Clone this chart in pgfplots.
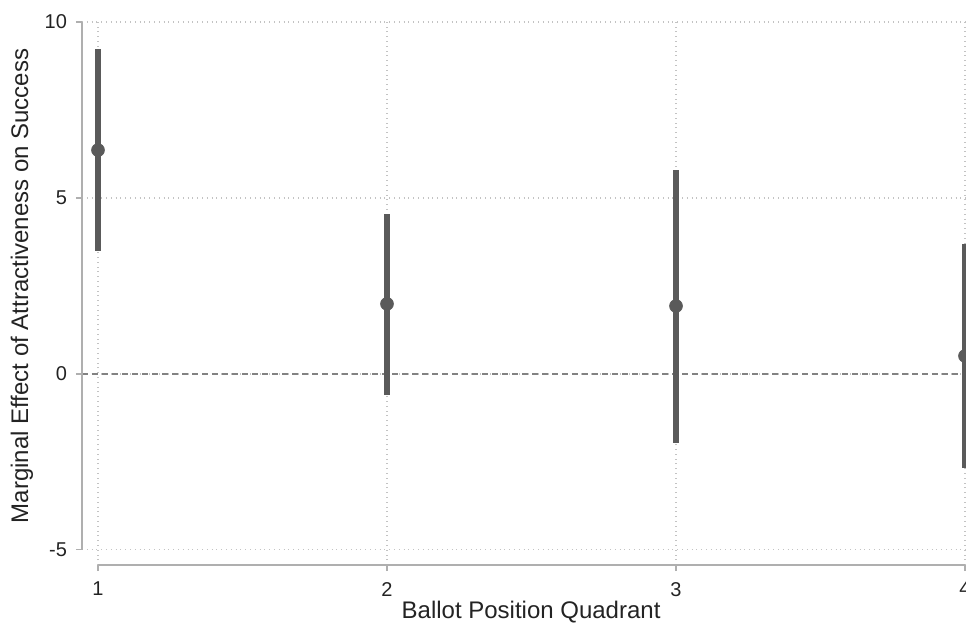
\documentclass[border=0pt]{standalone}
\usepackage{pgfplots}
\pgfplotsset{compat=1.18}
\usepackage{fontspec}
\setmainfont{Liberation Sans}
\definecolor{bargray}{RGB}{90,90,90}
\definecolor{axgray}{RGB}{175,175,175}
\definecolor{gridgray}{RGB}{195,195,195}
\definecolor{zerogray}{RGB}{130,130,130}
\definecolor{txtgray}{RGB}{35,35,35}

\pgfplotstableread{
x   y     ep    em
1   6.36  2.87  2.87
2   1.99  2.56  2.59
3   1.93  3.87  3.89
4   0.51  3.18  3.18
}\effects

\begin{document}
\begin{tikzpicture}
\begin{axis}[
    scale only axis,
    width=442pt, height=271.5pt,
    xmin=0.9446, xmax=4.0035,
    ymin=-5.43, ymax=10,
    axis lines=left,
    axis line style={draw=none},
    clip=false,
    xtick={1,2,3,4},
    ytick={-5,0,5,10},
    tick align=outside,
    major tick length=3pt,
    tick style={axgray, line width=0.6pt},
    xmajorgrids, ymajorgrids,
    grid style={gridgray, dotted, line width=0.6pt},
    /pgf/number format/assume math mode=true,
    tick label style={font=\fontsize{10}{12}\selectfont, text=txtgray},
    xticklabel style={yshift=-2pt},
    yticklabel style={xshift=-1pt},
    xlabel={Ballot Position Quadrant},
    ylabel={Marginal Effect of Attractiveness on Success},
    label style={font=\fontsize{12}{14}\selectfont, text=txtgray},
    xlabel style={at={(axis description cs:0.508,-0.0866)}, anchor=center},
    ylabel style={at={(axis description cs:-0.068,0.514)}, anchor=center},
]
% reference line at zero
\addplot[zerogray, line width=0.9pt, dash pattern=on 3pt off 2pt]
    coordinates {(0.9446,0) (4.0035,0)};

% point estimates with confidence intervals
\addplot[bargray, only marks, mark=*, mark size=3.2pt,
    mark options={fill=bargray, draw=bargray},
    error bars/.cd, y dir=both, y explicit,
    error mark=none,
    error bar style={bargray, line width=3.4pt}]
    table[x=x, y=y, y error plus=ep, y error minus=em] {\effects};

% detached axis lines
\draw[axgray, line width=0.8pt] (axis cs:0.9446,-5) -- (axis cs:0.9446,10);
\draw[axgray, line width=0.8pt] (axis cs:1,-5.43) -- (axis cs:4,-5.43);

\coordinate (sw) at (rel axis cs:0,0);
\coordinate (ne) at (rel axis cs:1,1);
\end{axis}
\pgfresetboundingbox
\path[use as bounding box] ([shift={(-41pt,-33pt)}]sw) rectangle ([shift={(0pt,11pt)}]ne);
\end{tikzpicture}
\end{document}
